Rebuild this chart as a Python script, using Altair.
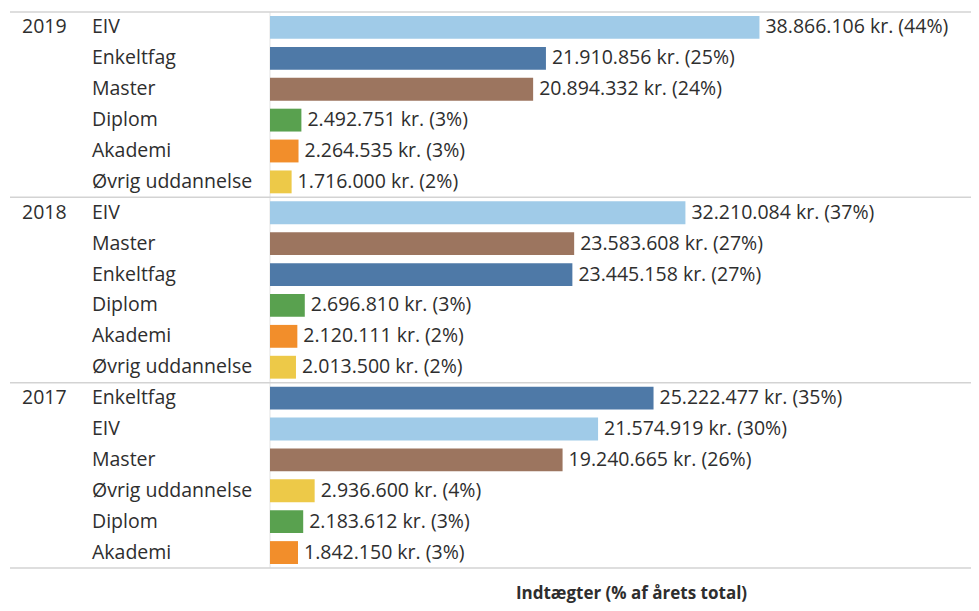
import altair as alt
import pandas as pd

years = ["2019", "2018", "2017"]

cats_2019 = ["EIV", "Enkeltfag", "Master", "Diplom", "Akademi", "Øvrig uddannelse"]
vals_2019 = [38866106, 21910856, 20894332, 2492751, 2264535, 1716000]
pct_2019 = [44, 25, 24, 3, 3, 2]

cats_2018 = ["EIV", "Master", "Enkeltfag", "Diplom", "Akademi", "Øvrig uddannelse"]
vals_2018 = [32210084, 23583608, 23445158, 2696810, 2120111, 2013500]
pct_2018 = [37, 27, 27, 3, 2, 2]

cats_2017 = ["Enkeltfag", "EIV", "Master", "Øvrig uddannelse", "Diplom", "Akademi"]
vals_2017 = [25222477, 21574919, 19240665, 2936600, 2183612, 1842150]
pct_2017 = [35, 30, 26, 4, 3, 3]

color_domain = ["EIV", "Enkeltfag", "Master", "Diplom", "Akademi", "Øvrig uddannelse"]
color_range = ["#a0cbe8", "#4e79a7", "#9c755f", "#59a14f", "#f28e2b", "#edc948"]

axis_title = "Indtægter (% af årets total)"

groups = [
    ("2019", cats_2019, vals_2019, pct_2019),
    ("2018", cats_2018, vals_2018, pct_2018),
    ("2017", cats_2017, vals_2017, pct_2017),
]


def dk(n):
    return f"{n:,}".replace(",", ".")


rows = []
for year, cats, vals, pcts in groups:
    for i, (c, v, p) in enumerate(zip(cats, vals, pcts)):
        rows.append({
            "key": f"{year}|{c}",
            "year": year,
            "category": c,
            "value": v,
            "label": f"{dk(v)} kr. ({p}%)",
            "is_first": i == 0,
            "is_last": i == len(cats) - 1,
        })
df = pd.DataFrame(rows)
key_order = list(df["key"])

W, H = 701, 556
FONT = "Open Sans"
FS = 19.5
TXT = "#2e2e2e"

base = alt.Chart(df).transform_joinaggregate(
    total="sum(value)", groupby=["year"]
).transform_calculate(share="datum.value / datum.total")

yscale = alt.Scale(paddingInner=0, paddingOuter=0)
y = alt.Y("key:N", sort=key_order, axis=None, scale=yscale)

x = alt.X(
    "share:Q",
    scale=alt.Scale(domain=[0, 0.6315], nice=False, zero=True),
    axis=alt.Axis(
        title=axis_title, labels=False, ticks=False, domain=False, grid=False,
        titleFontSize=17, titleFontWeight="bold", titleColor=TXT, titleFont=FONT,
        titlePadding=17, titleX=361,
    ),
)

bars = base.mark_bar(height=alt.RelativeBandSize(0.74)).encode(
    x=x,
    y=y,
    color=alt.Color("category:N", scale=alt.Scale(domain=color_domain, range=color_range), legend=None),
)

labels = base.mark_text(align="left", baseline="middle", dx=6, fontSize=FS, font=FONT, color=TXT).encode(
    x=x, y=y, text="label:N"
)

cat_text = base.mark_text(align="left", baseline="middle", fontSize=FS, font=FONT, color=TXT).encode(
    x=alt.value(-178), y=y, text="category:N"
)

year_text = base.transform_filter("datum.is_first").mark_text(
    align="left", baseline="middle", fontSize=FS, font=FONT, color=TXT
).encode(x=alt.value(-248), y=y, text="year:N")

top_rules = base.transform_filter("datum.is_first").mark_rule(color="#d3d3d3", strokeWidth=1.5).encode(
    x=alt.value(-260), x2=alt.value(W),
    y=alt.Y("key:N", sort=key_order, axis=None, scale=yscale, bandPosition=0),
)

bottom_rule = base.transform_filter("datum.is_last && datum.year == '2017'").mark_rule(
    color="#d3d3d3", strokeWidth=1.5
).encode(
    x=alt.value(-260), x2=alt.value(W),
    y=alt.Y("key:N", sort=key_order, axis=None, scale=yscale, bandPosition=1),
)

zero_line = base.transform_filter("datum.is_first && datum.year == '2019'").mark_rule(
    color="#e3e3e3", strokeWidth=1
).encode(x=alt.datum(0), y=alt.value(0), y2=alt.value(H))

chart = alt.layer(
    zero_line, bars, labels, cat_text, year_text, top_rules, bottom_rule
).properties(
    width=W, height=H, autosize="none",
    padding={"left": 262, "top": 4, "right": 0, "bottom": 35},
).configure_view(stroke=None)

chart.save("out.html", embed_options={"renderer": "svg", "actions": False})
